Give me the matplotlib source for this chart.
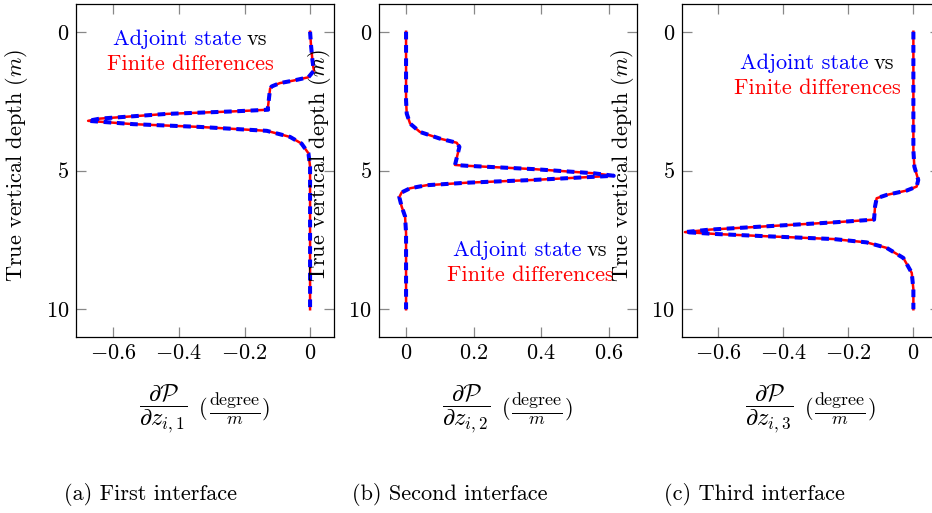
import matplotlib
matplotlib.use("Agg")
import matplotlib.pyplot as plt
from matplotlib.offsetbox import AnchoredOffsetbox, HPacker, TextArea, VPacker


plt.rcParams["font.family"] = "serif"
plt.rcParams["font.serif"] = ["cmr10"]
plt.rcParams["mathtext.fontset"] = "cm"
plt.rcParams["axes.formatter.use_mathtext"] = True
plt.rcParams["font.size"] = 16

# depth (m) and derivative values
DEPTH_1 = [0, 0.5, 1.0, 1.28, 1.4, 1.64, 1.76, 1.85, 1.97, 2.05, 2.47, 2.77, 2.81,
           2.87, 2.96, 3.13, 3.21, 3.33, 3.43, 3.57, 3.79, 4.03, 4.38, 4.86, 6.0,
           8.0, 10.0]
DERIV_1 = [0, 0.003, 0.007, 0.010, 0.012, -0.005, -0.051, -0.092, -0.117, -0.122,
           -0.126, -0.129, -0.128, -0.234, -0.437, -0.641, -0.677, -0.539, -0.336,
           -0.132, -0.061, -0.026, -0.005, 0, 0, 0, 0]

DEPTH_2 = [0, 1.0, 2.0, 2.47, 2.95, 3.31, 3.61, 3.85, 4.0, 4.15, 4.80, 4.83, 4.95,
           5.10, 5.19, 5.34, 5.44, 5.53, 5.64, 5.79, 5.96, 6.30, 6.65, 7.25, 8.5,
           10.0]
DERIV_2 = [0, 0, 0, 0, 0.002, 0.012, 0.041, 0.10, 0.15, 0.158, 0.145, 0.18, 0.378,
           0.556, 0.615, 0.378, 0.18, 0.061, 0.012, -0.013, -0.02, -0.013, -0.003,
           0, 0, 0]

DEPTH_3 = [0, 1.0, 2.0, 3.0, 4.27, 4.86, 5.34, 5.58, 5.72, 5.88, 6.0, 6.30, 6.77,
           6.87, 7.01, 7.13, 7.22, 7.29, 7.37, 7.47, 7.59, 7.79, 8.15, 8.69, 9.28,
           10.0]
DERIV_3 = [0, 0, 0, 0, 0, 0.003, 0.015, 0.010, -0.02, -0.082, -0.113, -0.118,
           -0.121, -0.246, -0.451, -0.626, -0.703, -0.605, -0.451, -0.246, -0.144,
           -0.082, -0.031, -0.005, 0, 0]

# both methods agree to plotting precision
ADJOINT = [DERIV_1, DERIV_2, DERIV_3]
FINITE_DIFF = [DERIV_1, DERIV_2, DERIV_3]
DEPTHS = [DEPTH_1, DEPTH_2, DEPTH_3]

X_TICKS = [[-0.6, -0.4, -0.2, 0], [0, 0.2, 0.4, 0.6], [-0.6, -0.4, -0.2, 0]]
X_TICK_LABELS = [
    [r"$-0.6$", r"$-0.4$", r"$-0.2$", r"$0$"],
    [r"$0$", r"$0.2$", r"$0.4$", r"$0.6$"],
    [r"$-0.6$", r"$-0.4$", r"$-0.2$", r"$0$"],
]
Y_TICKS = [0, 5, 10]
Y_TICK_LABELS = [r"$0$", r"$5$", r"$10$"]
X_LIMITS = [(-0.714, 0.073), (-0.081, 0.683), (-0.713, 0.081)]

X_LABELS = [
    r"$\dfrac{\partial \mathcal{P}}{\partial z_{i,1}}$",
    r"$\dfrac{\partial \mathcal{P}}{\partial z_{i,2}}$",
    r"$\dfrac{\partial \mathcal{P}}{\partial z_{i,3}}$",
]
X_UNIT = r"$\frac{\mathrm{degree}}{m}$"
CAPTIONS = ["(a) First interface", "(b) Second interface", "(c) Third interface"]
CAPTION_X = [150, 450, 754]

AXES_LEFT = [76, 378.7, 681.7]
LEGEND_POS = [(0.442, 0.858), (0.586, 0.222), (0.524, 0.785)]

W, H = 932, 513


def add_legend(ax, pos):
    top = HPacker(
        children=[
            TextArea("Adjoint state", textprops=dict(color="blue")),
            TextArea("vs", textprops=dict(color="black")),
        ],
        align="baseline", pad=0, sep=4,
    )
    bottom = TextArea("Finite differences", textprops=dict(color="red"))
    box = VPacker(children=[top, bottom], align="center", pad=0, sep=4)
    anchored = AnchoredOffsetbox(
        loc="center", child=box, frameon=False, pad=0, borderpad=0,
        bbox_to_anchor=pos, bbox_transform=ax.transAxes,
    )
    ax.add_artist(anchored)


def add_xlabel(ax, label):
    unit = HPacker(
        children=[
            TextArea("(", textprops=dict(fontsize=16)),
            TextArea(X_UNIT, textprops=dict(fontsize=18.5)),
            TextArea(")", textprops=dict(fontsize=16)),
        ],
        align="center", pad=0, sep=1,
    )
    box = HPacker(
        children=[TextArea(label, textprops=dict(fontsize=17.5)), unit],
        align="center", pad=0, sep=8,
    )
    anchored = AnchoredOffsetbox(
        loc="center", child=box, frameon=False, pad=0, borderpad=0,
        bbox_to_anchor=(0.5, -0.216), bbox_transform=ax.transAxes,
    )
    ax.add_artist(anchored)


fig = plt.figure(figsize=(W / 100, H / 100), dpi=100)

for i in range(3):
    ax = fig.add_axes([AXES_LEFT[i] / W, 1 - 337 / H, 258 / W, 333 / H])
    ax.plot(FINITE_DIFF[i], DEPTHS[i], color="red", lw=1.8, zorder=2)
    ax.plot(ADJOINT[i], DEPTHS[i], color="blue", lw=2.9, dashes=(1.9, 1.4), zorder=3)

    ax.set_xlim(*X_LIMITS[i])
    ax.set_ylim(11, -1)
    ax.set_xticks(X_TICKS[i])
    ax.set_xticklabels(X_TICK_LABELS[i])
    ax.set_yticks(Y_TICKS)
    ax.set_yticklabels(Y_TICK_LABELS)
    ax.tick_params(direction="in", length=7, width=0.9, color="#888888",
                   top=True, right=True, pad=5, labelsize=16)
    for spine in ax.spines.values():
        spine.set_linewidth(0.9)

    ax.set_ylabel(r"True vertical depth ($m$)", fontsize=16)
    ax.yaxis.set_label_coords(-46 / 258, 0.515)
    add_xlabel(ax, X_LABELS[i])

    add_legend(ax, LEGEND_POS[i])

    fig.text(CAPTION_X[i] / W, 1 - 495 / H, CAPTIONS[i], ha="center",
             va="center", fontsize=16)

fig.savefig("out.png", dpi=100)
